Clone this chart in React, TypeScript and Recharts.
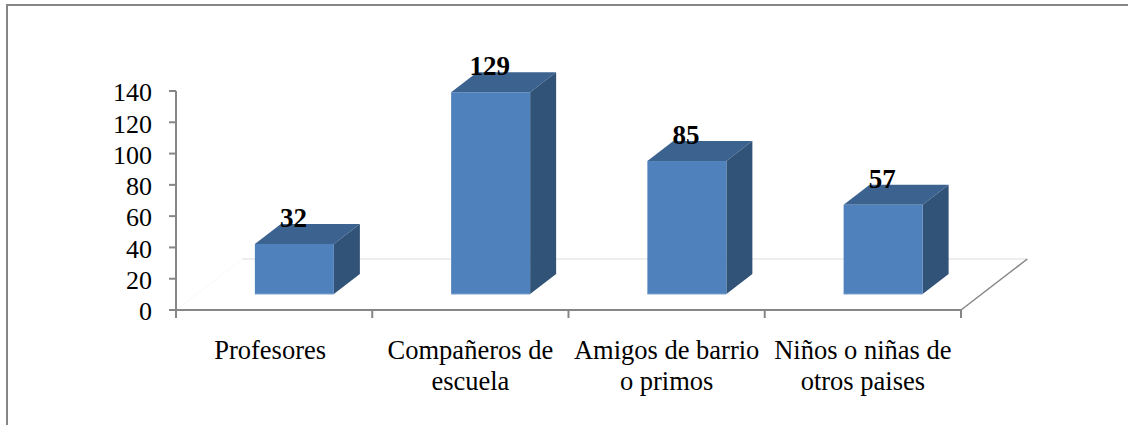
import React from 'react';
import { BarChart, Bar, XAxis, YAxis, LabelList, usePlotArea } from 'recharts';

const categories = ['Profesores', 'Compañeros de|escuela', 'Amigos de barrio|o primos', 'Niños o niñas de|otros paises'];
const values = [32, 129, 85, 57];
const yTicks = [0, 20, 40, 60, 80, 100, 120, 140];

const chartData = categories.map((name, i) => ({ name, value: values[i] }));

const AXIS = '#868686';
const FONT = '"Liberation Serif", serif';

// how far the bars sit from the axes, and the depth of the fake 3D
const SHIFT_X = 20;
const SHIFT_Y = -16;
const DEPTH_X = 26;
const DEPTH_Y = -20;

function Bar3D(props: any) {
  const x = props.x + SHIFT_X;
  const y = props.y + SHIFT_Y;
  const { width: w, height: h } = props;
  return (
    <g>
      <polygon
        points={`${x},${y} ${x + DEPTH_X},${y + DEPTH_Y} ${x + w + DEPTH_X},${y + DEPTH_Y} ${x + w},${y}`}
        fill="#3c638f"
      />
      <polygon
        points={`${x + w},${y} ${x + w + DEPTH_X},${y + DEPTH_Y} ${x + w + DEPTH_X},${y + h + DEPTH_Y} ${x + w},${y + h}`}
        fill="#325378"
      />
      <rect x={x} y={y} width={w} height={h} fill="#4f81bd" />
      <line x1={x} y1={y + h} x2={x + w} y2={y + h} stroke="#7ea1cc" strokeWidth={1} />
    </g>
  );
}

// floor of the 3D plot, drawn behind the bars
function Floor() {
  const plot = usePlotArea();
  if (!plot) return null;
  const left = plot.x;
  const right = plot.x + plot.width;
  const bottom = plot.y + plot.height;
  const backY = bottom + DEPTH_Y * 2.55;
  const backDx = DEPTH_X * 2.55;
  return (
    <g>
      <line x1={left} y1={bottom} x2={left + backDx} y2={backY} stroke="#f9f9f9" strokeWidth={1} />
      <line x1={left + backDx} y1={backY} x2={right + backDx} y2={backY} stroke="#dcdcdc" strokeWidth={1} />
      <line x1={right} y1={bottom} x2={right + backDx} y2={backY} stroke={AXIS} strokeWidth={1.5} />
    </g>
  );
}

function CategoryTick(props: any) {
  const { x, payload, index, band, axisY } = props;
  const lines = String(payload.value).split('|');
  const isLast = index === categories.length - 1;
  // the single-line label sits a little left of its band in the original
  const textX = lines.length === 1 ? x - 4 : x;
  return (
    <g>
      <line x1={x - band / 2} y1={axisY} x2={x - band / 2} y2={axisY + 8} stroke={AXIS} strokeWidth={2} />
      {isLast && <line x1={x + band / 2} y1={axisY} x2={x + band / 2} y2={axisY + 8} stroke={AXIS} strokeWidth={2} />}
      <text x={textX} y={axisY + 49} textAnchor="middle" fontFamily={FONT} fontSize={26.5} fill="#000">
        {lines.map((line, i) => (
          <tspan key={i} x={textX} dy={i === 0 ? 0 : 31}>{line}</tspan>
        ))}
      </text>
    </g>
  );
}

export default function App() {
  const band = 785 / categories.length;
  return (
    <div style={{ position: 'absolute', left: 0, top: 0, width: 1128, height: 425, background: '#fff' }}>
      <div style={{ position: 'absolute', left: 6, top: 4, right: 0, bottom: 0, borderLeft: `2px solid ${AXIS}`, borderTop: `2px solid ${AXIS}` }} />
      <div style={{ position: 'absolute', left: 0, top: 0 }}>
        <BarChart
          width={1128}
          height={425}
          data={chartData}
          margin={{ top: 91, right: 167, bottom: 0, left: 0 }}
          barCategoryGap="30%"
        >
          <Floor />
          <XAxis
            dataKey="name"
            interval={0}
            height={115}
            tickLine={false}
            axisLine={{ stroke: AXIS, strokeWidth: 2 }}
            tick={<CategoryTick band={band} axisY={310} />}
          />
          <YAxis
            width={176}
            domain={[0, 140]}
            ticks={yTicks}
            interval={0}
            tickSize={7}
            tickLine={{ stroke: AXIS, strokeWidth: 2 }}
            axisLine={{ stroke: AXIS, strokeWidth: 2 }}
            tick={{ fontFamily: FONT, fontSize: 26, fill: '#000', dy: 1 }}
            tickMargin={17}
          />
          <Bar dataKey="value" isAnimationActive={false} shape={<Bar3D />}>
            <LabelList
              dataKey="value"
              position="top"
              dx={SHIFT_X - 1}
              dy={-28}
              style={{ fontFamily: FONT, fontSize: 27, fontWeight: 'bold', fill: '#000' }}
            />
          </Bar>
        </BarChart>
      </div>
    </div>
  );
}
